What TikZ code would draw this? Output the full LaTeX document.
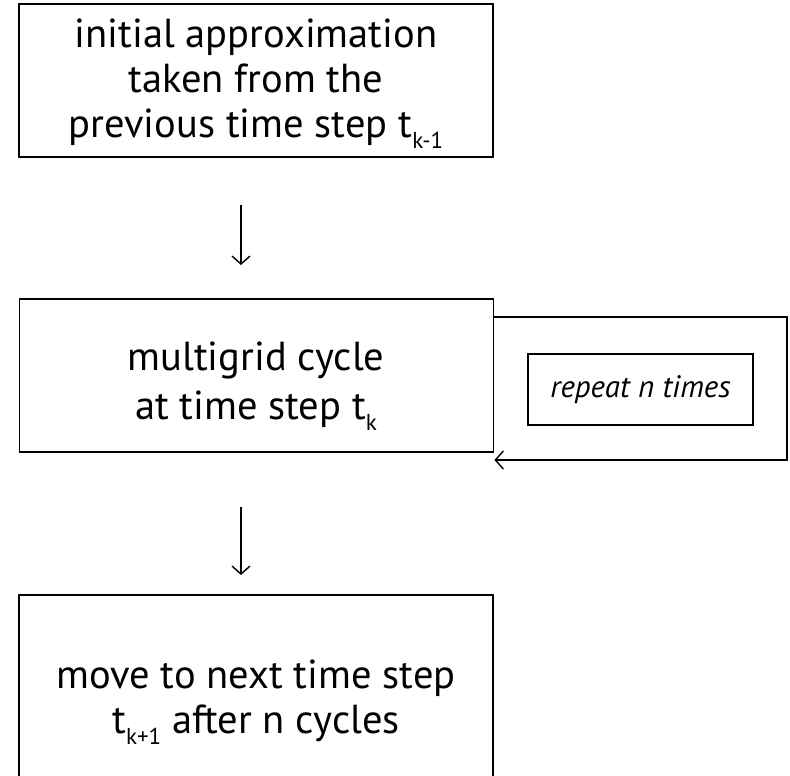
\documentclass[tikz,border=0pt]{standalone}
\usepackage{fontspec}
\setmainfont{PT Sans}
\usetikzlibrary{arrows.meta}
\newcommand{\tsub}[1]{\raisebox{-11pt}{\fontsize{23}{23}\selectfont #1}}
\tikzset{
    stepbox/.style={draw,line width=1.8pt,minimum width=474,minimum height=153,inner sep=0pt},
    txt/.style={align=center,font=\fontsize{40.5}{45}\selectfont},
    arr/.style={line width=1.4pt,-{Straight Barb[length=8pt,width=18pt,line width=1.4pt]}}
}
\begin{document}
\begin{tikzpicture}[x=1pt,y=-1pt]
        \useasboundingbox (0,0) rectangle (790,776);
        \node[stepbox] (init) at (256,80.5) {};
        \node[stepbox] (cycle) at (256.5,375.5) {};
        \node[stepbox,minimum height=210] (move) at (256,700) {};
        \node[txt] (initT) at (256,84) {initial approximation\\taken from the\\previous time step t\tsub{k-1}};
        \node[txt,font=\fontsize{40.5}{49}\selectfont] (cycleT) at (256,386) {multigrid cycle\\at time step t\tsub{k}};
        \node[txt] (moveT) at (256,702) {move to next time step\\t\tsub{k+1} after n cycles};
        \node[draw,line width=1.5pt,minimum width=225,minimum height=71,inner sep=0pt,
            font=\itshape\fontsize{31}{31}\selectfont] (rep) at (640.5,389.5) {repeat n times};
        \coordinate (A) at (241,205);
        \coordinate (B) at (241,265);
        \coordinate (C) at (241,507);
        \coordinate (D) at (241,575);
        \coordinate (E) at (cycle.east |- 0,317);
        \coordinate (F) at (787,317);
        \coordinate (G) at (787,460);
        \coordinate (H) at (cycle.east |- 0,460);
        \draw[arr] (A)--(B);
        \draw[arr] (C)--(D);
        \draw[arr,line width=1.6pt] (E)--(F)--(G)--(H);
    \end{tikzpicture}
\end{document}
